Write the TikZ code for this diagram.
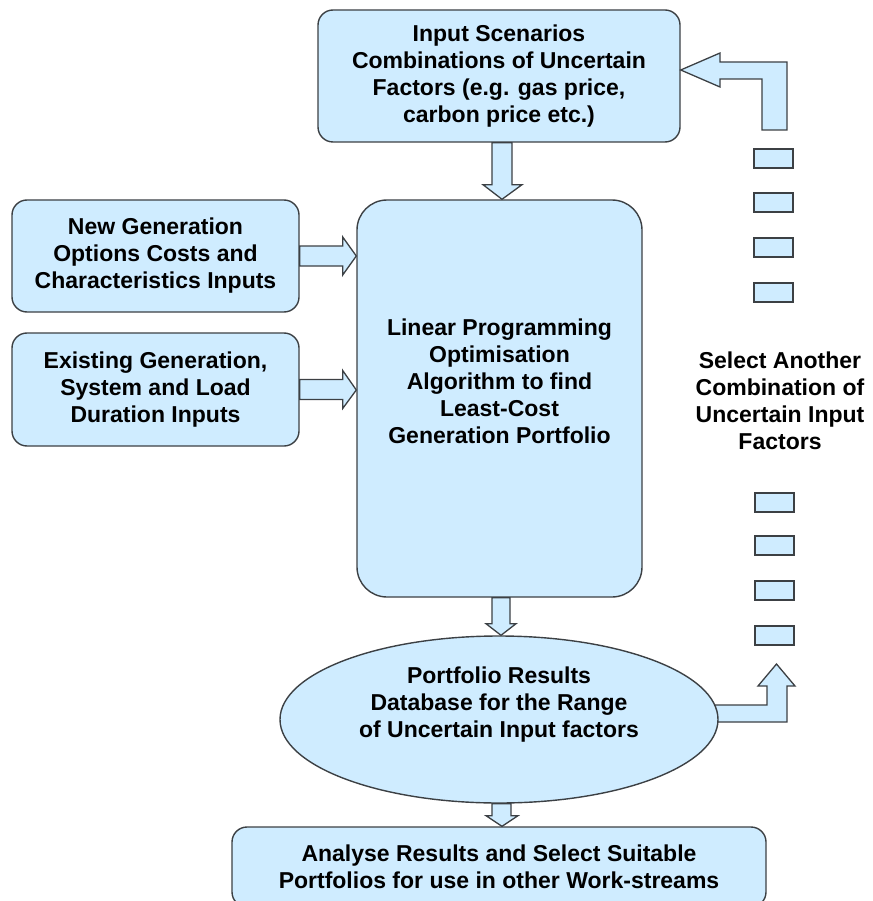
\documentclass[tikz,border=0pt]{standalone}
\usepackage{fontspec}
\setmainfont{Liberation Sans}
\usetikzlibrary{calc,shapes.geometric}
\definecolor{fillc}{RGB}{207,236,255}
\definecolor{edgec}{RGB}{60,64,68}
\tikzset{
  box/.style={draw=edgec, fill=fillc, line width=1.4pt, rounded corners=15pt,
    align=center, inner sep=0pt, font=\bfseries\fontsize{23}{27}\selectfont},
  txt/.style={align=center, inner sep=0pt, font=\bfseries\fontsize{23}{27}\selectfont},
  blk/.style={draw=edgec, fill=fillc, line width=1.3pt, line join=miter},
  dashbox/.style={draw=edgec, fill=fillc, line width=1.4pt, minimum width=39pt, minimum height=19pt, inner sep=0pt}
}
\begin{document}
\begin{tikzpicture}[x=1pt,y=-1pt]
\useasboundingbox (0,0) rectangle (872,901);
% nodes
\node[box, minimum width=362pt, minimum height=132pt] (top) at (499,76)
  {Input Scenarios\\Combinations of Uncertain\\Factors (e.g. gas price,\\carbon price etc.)};
\node[box, minimum width=287pt, minimum height=112pt] (newgen) at (155.5,256)
  {New Generation\\Options Costs and\\Characteristics Inputs};
\node[box, minimum width=287pt, minimum height=113pt] (exist) at (155.5,389.5)
  {Existing Generation,\\System and Load\\Duration Inputs};
\node[box, rounded corners=30pt, minimum width=285pt, minimum height=397pt] (main) at (499.5,398.5) {};
\node[txt] (maintxt) at (499.5,381)
  {Linear Programming\\Optimisation\\Algorithm to find\\Least-Cost\\Generation Portfolio};
\node[box, rounded corners=15pt, minimum width=534pt, minimum height=80pt] (bottom) at (499,867)
  {Analyse Results and Select Suitable\\Portfolios for use in other Work-streams};
\node[txt] (select) at (780,401)
  {Select Another\\Combination of\\Uncertain Input\\Factors};

% lower return arrow (drawn before ellipse)
\draw[blk] (712,705) -- (767,705) -- (767,686) -- (758,686) -- (776.5,664)
  -- (795,686) -- (787,686) -- (787,722) -- (712,722) -- cycle;
\node[draw=edgec, fill=fillc, line width=1.4pt, ellipse, minimum width=438pt, minimum height=167pt,
  inner sep=0pt] (res) at (499,719.5) {};
\node[txt] (restxt) at (499,705)
  {Portfolio Results\\Database for the Range\\of Uncertain Input factors};

% down arrows
\draw[blk] ($(top.south)+(-7,0)$) -- ++(0,42) -- ++(-9,0) -- ($(main.north)+(2.5,0)$)
  -- ($(top.south)+(23,42)$) -- ++(-10,0) -- ($(top.south)+(13,0)$) -- cycle;
\draw[blk] ($(main.south)+(-7.5,0)$) -- ++(0,26) -- ++(-6,0) -- ($(res.north)+(2,0)$)
  -- ($(main.south)+(16.5,26)$) -- ++(-6,0) -- ($(main.south)+(10.5,0)$) -- cycle;
\draw[blk] ($(res.south)+(-7,0)$) -- ++(0,12) -- ++(-6,0) -- ($(bottom.north)+(3,0)$)
  -- ($(res.south)+(19,12)$) -- ++(-7,0) -- ($(res.south)+(12,0)$) -- cycle;

% right arrows
\draw[blk] ($(newgen.east)+(0,-10)$) -- ++(43,0) -- ++(0,-9) -- ($(main.west)+(0,-142.5)$)
  -- ($(newgen.east)+(43,19)$) -- ++(0,-9) -- ($(newgen.east)+(0,10)$) -- cycle;
\draw[blk] ($(exist.east)+(0,-10)$) -- ++(43,0) -- ++(0,-9) -- ($(main.west)+(0,-8.5)$)
  -- ($(exist.east)+(43,19)$) -- ++(0,-9) -- ($(exist.east)+(0,10)$) -- cycle;

% upper return arrow
\draw[blk] (762,130) -- (787,130) -- (787,62) -- (720,62) -- (720,53) -- (top.east |- 0,70)
  -- (720,87) -- (720,79) -- (762,79) -- cycle;

% dashed column
\foreach \y [count=\i] in {158.5,202.5,247.5,292.5}
  \node[dashbox] (du\i) at (773.5,\y) {};
\foreach \y [count=\i] in {502.5,545.5,590.5,635.5}
  \node[dashbox] (dl\i) at (774.5,\y) {};
\end{tikzpicture}
\end{document}
